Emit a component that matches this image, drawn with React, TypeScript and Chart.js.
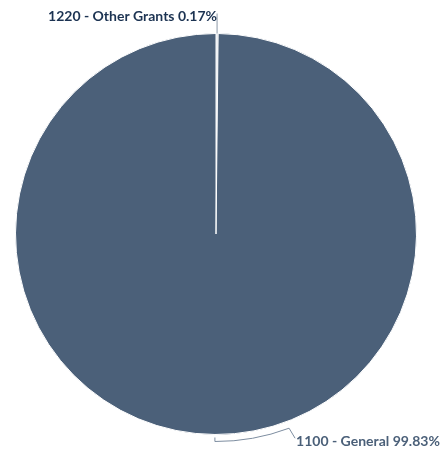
import React, { useEffect, useRef } from "react";
import { Chart, registerables } from "chart.js";

Chart.register(...registerables);

const categories = ["1220 - Other Grants", "1100 - General"];
const shares = [0.17, 99.83];
const sliceColors = ["#c9d2dc", "#4b6079"];
const labelColors = ["#1c3352", "#4b6079"];

const labelPlugin = {
  id: "pieLabels",
  afterDatasetsDraw(chart: any) {
    const ctx = chart.ctx;
    const meta = chart.getDatasetMeta(0);
    const a0 = meta.data[0];
    const a1 = meta.data[1];
    const cx = a0.x;
    const cy = a0.y;
    const r = a0.outerRadius;
    ctx.save();
    ctx.font = "bold 14px Lato, 'Open Sans', sans-serif";
    ctx.textBaseline = "middle";
    // small slice leader: vertical line from pie top up to label
    const mid0 = (a0.startAngle + a0.endAngle) / 2;
    const px = cx + Math.cos(mid0) * r;
    const py = cy + Math.sin(mid0) * r;
    ctx.strokeStyle = "#8a97a6";
    ctx.lineWidth = 1;
    ctx.beginPath();
    ctx.moveTo(px, py);
    ctx.lineTo(px, py - 20);
    ctx.stroke();
    ctx.fillStyle = labelColors[0];
    ctx.textAlign = "right";
    ctx.fillText(categories[0] + " " + shares[0].toFixed(2) + "%", px, py - 17);

    // big slice leader: arc outside the pie, bottom to lower right
    const mid1 = (a1.startAngle + a1.endAngle) / 2;
    const rr = r + 7;
    const endA = Math.atan2(194, 73);
    ctx.strokeStyle = "#7d8da0";
    ctx.beginPath();
    ctx.moveTo(cx + Math.cos(mid1) * (r + 3), cy + Math.sin(mid1) * (r + 3));
    ctx.lineTo(cx + Math.cos(mid1) * rr, cy + Math.sin(mid1) * rr);
    ctx.arc(cx, cy, rr, mid1, endA, true);
    const ex = cx + Math.cos(endA) * rr;
    const ey = cy + Math.sin(endA) * rr;
    ctx.lineTo(ex + 6, ey + 10);
    ctx.stroke();
    ctx.fillStyle = labelColors[1];
    ctx.textAlign = "left";
    ctx.fillText(categories[1] + " " + shares[1].toFixed(2) + "%", ex + 7, ey + 13);
    ctx.restore();
  },
};

export default function App() {
  const ref = useRef<HTMLCanvasElement | null>(null);
  useEffect(() => {
    document.body.style.margin = "0";
    const chart = new Chart(ref.current as HTMLCanvasElement, {
      type: "pie",
      data: {
        labels: categories,
        datasets: [
          {
            data: shares,
            backgroundColor: sliceColors,
            borderColor: "#ffffff",
            borderWidth: 1,
          },
        ],
      },
      options: {
        animation: false,
        responsive: false,
        layout: { padding: { left: 15, right: 28, top: 33, bottom: 18 } },
        plugins: { legend: { display: false }, tooltip: { enabled: false } },
      },
      plugins: [labelPlugin],
    });
    return () => chart.destroy();
  }, []);
  return (
    <div style={{ width: 445, height: 453 }}>
      <canvas ref={ref} width={445} height={453} />
    </div>
  );
}
